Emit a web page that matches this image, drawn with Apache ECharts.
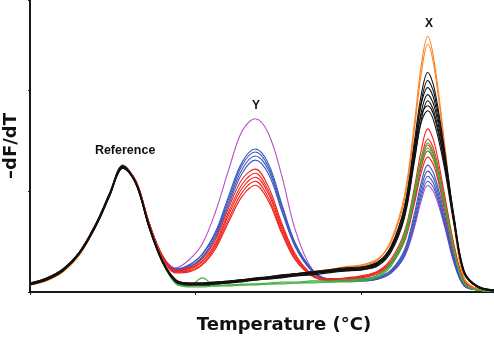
<!DOCTYPE html>
<html>
<head>
<meta charset="utf-8">
<script src="https://cdn.jsdelivr.net/npm/echarts@6/dist/echarts.min.js"></script>
<style>
html,body{margin:0;padding:0;background:#fff;}
#c{width:494px;height:344px;}
</style>
</head>
<body>
<div id="c"></div>
<script>
// Temperature (°C) sample points
const temperature = [70.0,70.5,71.0,71.5,72.0,72.4,72.8,73.2,73.6,74.0,74.4,74.8,75.2,75.6,76.0,76.4,76.8,77.2,77.6,78.0,78.5,79.0,79.5,80.0,80.5,80.9,81.3,81.6,81.8,82.0,82.2,82.5,82.8,83.1,83.5,84.0];

// -dF/dT curves (arbitrary units)
const black1 = [8,13,22,39,67,96,124,108,64,30,11,8,8,9,10,11,12,14,15,17,19,20,22,23,28,45,85,150,195,218,202,142,72,19,5,2];
const black2 = [9,14,23,40,69,98,125,107,63,29,10,7,7,8,9,11,12,13,15,16,18,20,21,22,27,42,80,142,188,210,196,140,74,21,6,2];
const black3 = [7,12,21,38,66,95,123,109,66,31,12,9,9,10,11,12,14,15,17,18,20,22,24,25,30,46,84,145,186,203,190,136,72,20,5,1];
const black4 = [8,13,22,40,68,97,124,107,64,30,11,8,8,9,10,11,13,14,16,17,19,21,22,24,28,43,78,136,178,196,184,134,70,19,5,2];
const black5 = [8,12,21,39,67,96,123,108,65,31,10,7,7,8,9,10,12,13,14,16,17,19,21,22,26,40,74,130,170,190,178,130,69,18,5,1];
const black6 = [9,13,22,39,68,97,125,108,64,30,11,8,8,9,10,12,13,14,16,18,19,21,23,24,29,44,79,138,176,185,174,128,68,20,6,2];
const black7 = [8,13,23,40,67,96,124,107,65,31,12,9,9,10,11,12,13,15,16,18,20,21,23,24,28,42,76,132,168,180,168,124,66,19,5,2];
const orange1 = [8,12,21,38,67,96,124,108,65,31,11,8,8,9,10,11,13,14,16,18,20,22,24,26,32,52,96,168,224,254,228,150,68,14,3,1];
const orange2 = [7,11,20,37,66,95,123,109,66,32,12,9,9,10,10,12,13,15,17,18,20,22,25,27,33,50,92,162,216,246,222,146,66,13,3,1];
const red1 = [8,13,22,40,68,97,125,109,67,35,21,24,33,52,84,112,122,104,68,38,18,13,14,16,21,33,60,104,140,162,148,98,46,12,3,1];
const red2 = [9,14,23,39,67,96,124,110,68,36,21,23,31,49,80,107,118,100,65,36,17,12,13,15,20,31,56,98,132,152,140,94,44,11,3,1];
const red3 = [7,12,21,38,66,95,123,109,67,34,20,22,30,47,77,103,114,97,63,35,17,12,13,15,20,30,54,95,128,146,134,90,42,11,3,1];
const red4 = [8,13,22,39,67,96,124,110,68,35,20,21,28,45,73,99,110,93,60,33,16,11,12,14,19,29,52,91,123,140,129,86,40,10,2,1];
const red5 = [8,13,22,40,68,97,125,109,67,34,19,20,27,43,70,95,106,90,58,32,16,11,12,14,18,28,50,88,118,134,124,83,38,10,2,1];
const green1 = [8,13,22,39,67,96,124,108,64,30,9,6,14,6,7,7,8,8,9,9,10,10,11,12,16,28,55,98,132,148,136,92,42,9,2,1];
const green2 = [8,12,21,39,67,96,123,107,63,29,8,5,5,6,6,7,7,8,8,9,9,10,10,11,15,26,52,94,127,143,131,88,40,8,2,1];
const green3 = [9,13,22,40,68,97,124,108,64,30,9,6,6,7,7,8,8,9,10,10,11,11,12,13,17,30,58,100,128,140,130,90,41,9,2,1];
const blue1 = [8,13,22,40,68,98,126,109,67,35,23,27,38,60,96,129,142,127,87,49,23,13,13,13,15,22,42,78,108,126,116,78,34,7,2,1];
const blue2 = [9,14,23,40,67,97,125,109,68,36,22,26,37,58,93,126,139,124,85,48,22,12,12,12,14,21,40,74,103,120,111,74,32,7,2,1];
const blue3 = [7,12,21,38,66,96,124,110,68,35,22,25,35,56,90,122,135,121,82,46,21,12,11,11,13,20,38,70,98,115,106,71,30,6,2,1];
const blue4 = [8,12,22,39,67,97,125,109,67,35,21,24,34,54,87,118,131,117,80,45,21,11,11,11,13,19,36,67,94,110,102,68,29,6,2,1];
const magenta1 = [8,13,22,39,67,97,125,110,68,36,24,32,48,80,122,160,172,157,115,62,23,13,12,12,13,19,35,64,90,106,98,66,28,6,2,1];

// Peak annotations
const peakNames = ['Reference','Y','X'];
const peakTemps = [72.87,76.82,82.04];
const peakValues = [140,185,266];

const groups = [
  {color:'#b650c4', lines:[magenta1]},
  {color:'#3a57bd', lines:[blue1,blue2,blue3,blue4]},
  {color:'#f0231a', lines:[red1,red2,red3,red4,red5]},
  {color:'#ff7f1e', lines:[orange1,orange2]},
  {color:'#3fae3c', lines:[green1,green2,green3]},
  {color:'#111111', lines:[black1,black2,black3,black4,black5,black6,black7]}
];

const series = [];
groups.forEach(g => {
  g.lines.forEach(vals => {
    series.push({
      type:'line',
      data: temperature.map((t,i)=>[t, vals[i]]),
      smooth:0.35,
      showSymbol:false,
      silent:true,
      lineStyle:{color:g.color, width:1.1},
      itemStyle:{color:g.color}
    });
  });
});

const chart = echarts.init(document.getElementById('c'), null, {renderer:'canvas'});
chart.setOption({
  animation:false,
  backgroundColor:'#ffffff',
  grid:{left:30, right:0, top:0, bottom:52, containLabel:false},
  xAxis:{
    type:'value', min:70, max:84, interval:5,
    axisLine:{show:true, onZero:false, lineStyle:{color:'#1a1a1a', width:2}},
    axisTick:{show:true, length:3, lineStyle:{color:'#1a1a1a', width:1}},
    axisLabel:{show:false},
    splitLine:{show:false}
  },
  yAxis:{
    type:'value', min:0, max:290, interval:100,
    axisLine:{show:true, lineStyle:{color:'#1a1a1a', width:2}},
    axisTick:{show:true, length:2, lineStyle:{color:'#1a1a1a', width:1}},
    axisLabel:{show:false},
    splitLine:{show:false}
  },
  series: series
});

const annot = peakNames.map((n,i) => {
  const p = chart.convertToPixel({gridIndex:0}, [peakTemps[i], peakValues[i]]);
  return {type:'text', x:p[0], y:p[1], z:100,
    style:{text:n, font:'bold 11px "Liberation Sans"', fill:'#111', align:'center', verticalAlign:'middle'}};
});
annot[0].style.font = 'bold 12.5px "Liberation Sans"';
annot[1].style.font = 'bold 12px "Liberation Sans"';
annot[2].style.font = 'bold 12px "Liberation Sans"';

chart.setOption({
  graphic:[
    {type:'text', x:284, y:325, style:{text:'Temperature (°C)', font:'bold 18px "DejaVu Sans"', fill:'#111', align:'center', verticalAlign:'middle'}},
    {type:'text', x:11, y:146, rotation:Math.PI/2, style:{text:'–dF/dT', font:'bold 18px "DejaVu Sans"', fill:'#111', align:'center', verticalAlign:'middle'}}
  ].concat(annot)
});
</script>
</body>
</html>
